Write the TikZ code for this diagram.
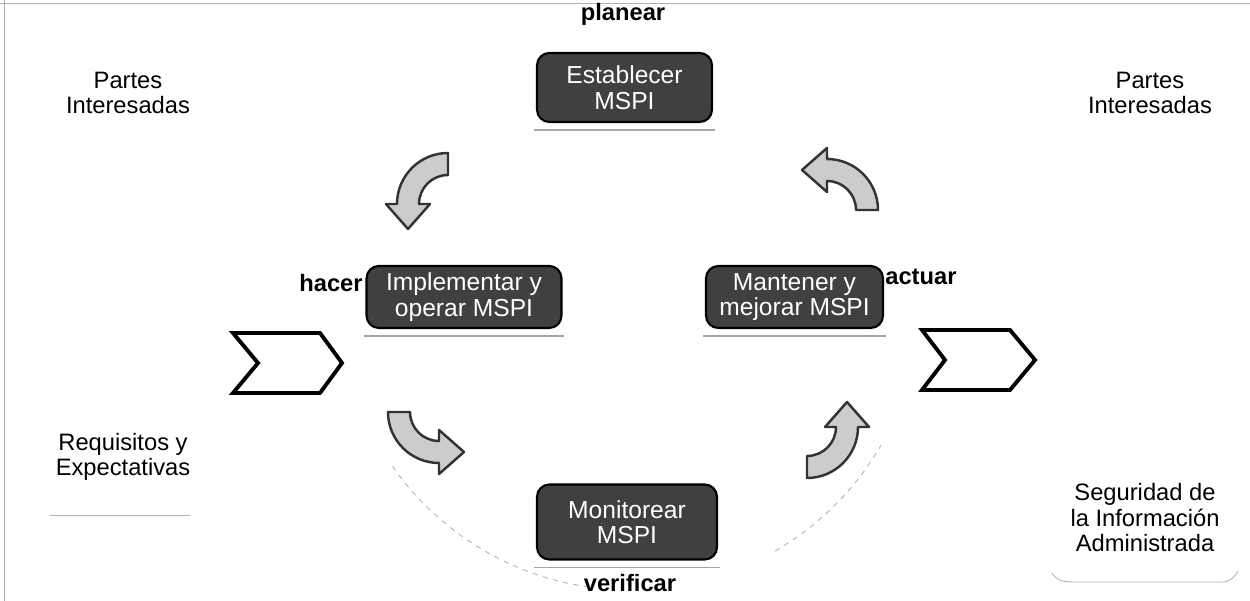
\documentclass[tikz,border=0pt]{standalone}
\usepackage{fontspec}
\setmainfont{Liberation Sans}
\begin{document}
\begin{tikzpicture}[x=0.02cm, y=0.02cm,
  box/.style={draw=black, line width=1.2pt, fill=black!75, rounded corners=7pt,
    text=white, align=center, font=\fontsize{14}{14.5}\selectfont, inner sep=0pt},
  lbl/.style={font=\bfseries\fontsize{13.5}{15}\selectfont, inner sep=0pt},
  side/.style={align=center, font=\fontsize{13.5}{14.5}\selectfont, inner sep=0pt},
  shadowline/.style={draw=gray!70, line width=0.8pt},
  faint/.style={draw=gray!60, line width=0.5pt},
  chev/.style={draw=black, line width=2.2pt, line join=miter},
  arrowstyle/.style={fill=gray!40, draw=gray!40!black, line width=1.4pt, line join=round},
  cyc/.pic={\filldraw[arrowstyle] (51,0) arc (0:90:1.02cm) -- (0,62) -- (-25,40) -- (0,18) -- (0,29) arc (90:0:0.58cm) -- cycle;}
]
\useasboundingbox (0,0) rectangle (1250,601);
% frame remnants
\draw[faint] (0,598) -- (1250,598);
\draw[faint] (4,0) -- (4,601);
% faint cycle circle
\draw[faint, dashed] (630,301) ++(215:5.8cm) arc (215:262:5.8cm);
\draw[faint, dashed] (630,301) ++(300:5.8cm) arc (300:330:5.8cm);

% boxes
\node[box, minimum width=3.5cm, minimum height=1.38cm] (est) at (624.5,513.5) {Establecer\\MSPI};
\node[box, minimum width=3.9cm, minimum height=1.24cm] (imp) at (464,304) {Implementar y\\operar MSPI};
\node[box, minimum width=3.54cm, minimum height=1.24cm] (man) at (794.5,304) {Mantener y\\mejorar MSPI};
\node[box, minimum width=3.6cm, minimum height=1.5cm] (mon) at (627,79) {Monitorear\\MSPI};
\foreach \b in {est,imp,man,mon}{
  \draw[shadowline] ([xshift=-1pt,yshift=-4pt]\b.south west) -- ([xshift=1pt,yshift=-4pt]\b.south east);
}

% phase labels
\node[lbl] (planear) at (623,587) {planear};
\node[lbl] (verificar) at (630,18) {verificar};
\node[lbl, anchor=east] (hacer) at (363,318) {hacer};
\node[lbl, anchor=west] (actuar) at (885,324) {actuar};

% chevrons
\draw[chev] (233,268) -- (320,268) -- (342,238) -- (320,208) -- (233,208) -- (258,238) -- cycle;
\draw[chev] (922,271) -- (1010,271) -- (1035,241) -- (1010,211) -- (922,211) -- (945,241) -- cycle;

% curved arrows
\pic at (827,391) {cyc};
\pic[rotate=90] at (448,397) {cyc};
\pic[rotate=180] at (439,189) {cyc};
\pic[rotate=270] at (807,174) {cyc};

% side texts
\node[side] (pil) at (128,508) {Partes\\Interesadas};
\node[side] (req) at (123,144) {Requisitos y\\Expectativas};
\node[side] (pir) at (1150,508) {Partes\\Interesadas};
\node[side] (seg) at (1145,83) {Seguridad de\\la Información\\Administrada};
\draw[faint] (50,86) -- (190,86);
\draw[faint] (1052,28) to[out=-60,in=180] (1080,19) -- (1222,19) to[out=0,in=-120] (1238,30);
\end{tikzpicture}
\end{document}
